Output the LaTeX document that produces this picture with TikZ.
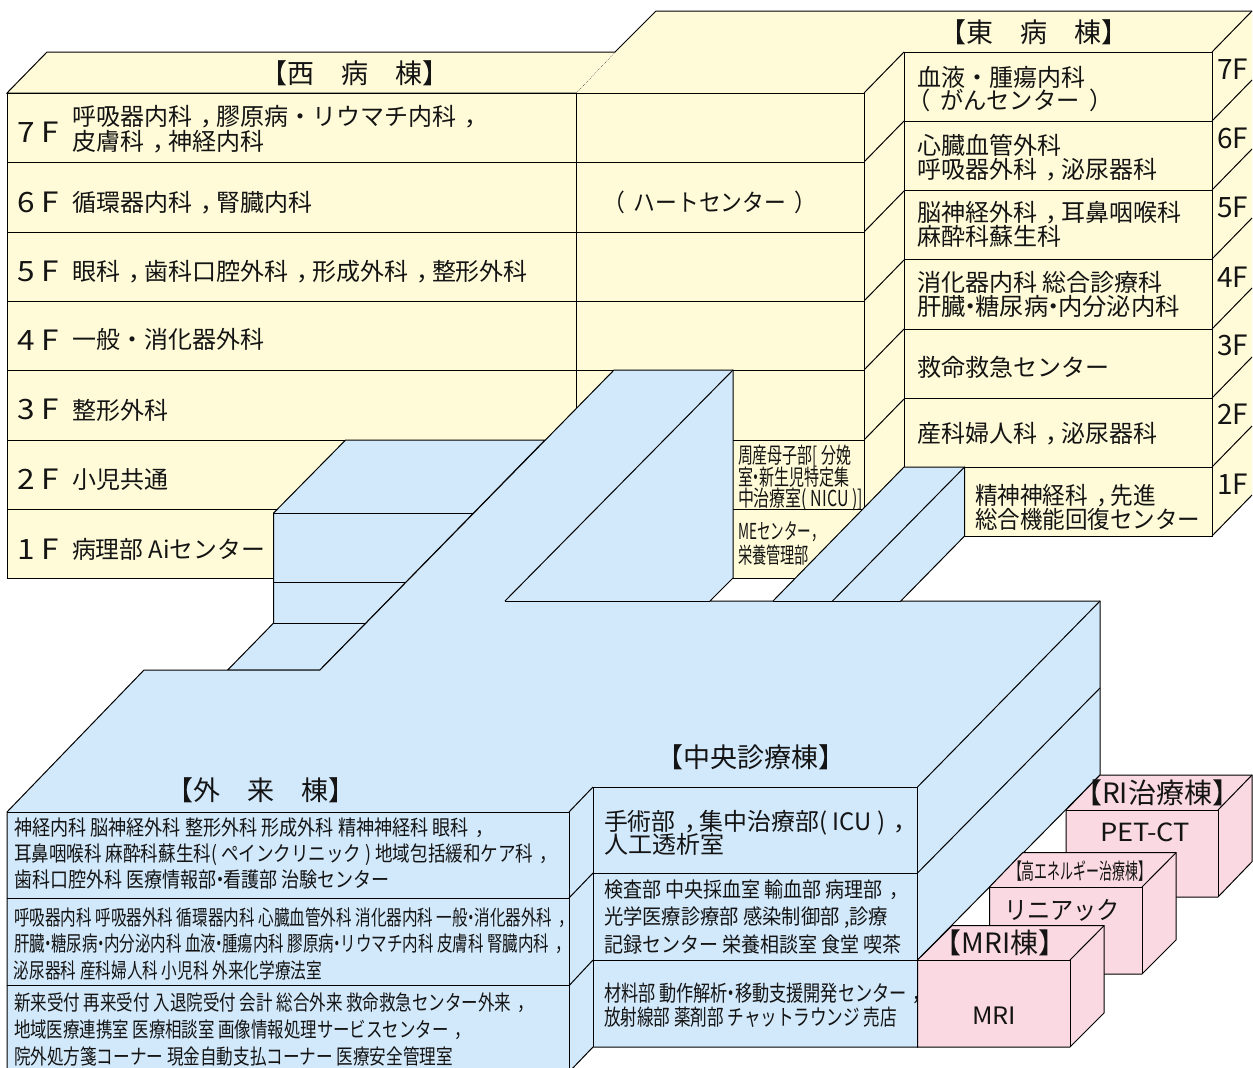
\documentclass[tikz,border=0pt]{standalone}
\usepackage{graphicx}
\usepackage{fontspec}
\newfontfamily\jp{Noto Sans CJK JP}
\definecolor{ylw}{HTML}{FFFBD8}
\definecolor{blu}{HTML}{D2E9FB}
\definecolor{pnk}{HTML}{FBD9E3}
\tikzset{
  edge/.style={draw=black,line width=1pt,line join=miter},
  ybox/.style={edge,fill=ylw},
  bbox/.style={edge,fill=blu},
  pbox/.style={edge,fill=pnk},
  tx/.style={inner sep=0pt,outer sep=0pt,text=black!92}
}
% comma / dot / brackets placed as the picture shows them
\newcommand\cm{\hspace{.36em}，\hspace{-.36em}}
\newcommand\nd{\hspace{-.3em}・\hspace{-.3em}}
\newcommand\opn{\hspace{-.4em}（\hspace{.4em}}
\newcommand\cls{\hspace{.4em}）\hspace{-.4em}}
% name, x, y(centre of line), size, text : left aligned, natural width
\newcommand\tn[5]{\node[tx,anchor=base west,yshift={-0.38*#4pt},font=\jp\fontsize{#4}{#4}\selectfont] (#1) at (#2,#3) {#5};}
% name, x, y, size, width, text : left aligned, squeezed to width
\newcommand\tw[6]{\node[tx,anchor=base west,yshift={-0.38*#4pt},font=\jp\fontsize{#4}{#4}\selectfont] (#1) at (#2,#3) {\resizebox{#5pt}{\height}{#6}};}
% name, x, y, size, text : centred
\newcommand\tc[5]{\node[tx,anchor=base,yshift={-0.38*#4pt},font=\jp\fontsize{#4}{#4}\selectfont] (#1) at (#2,#3) {#5};}
\begin{document}
\begin{tikzpicture}[x=1pt,y=-1pt]
\path[use as bounding box] (0,0) rectangle (1253,1068);
\clip (0,0) rectangle (1253,1068);

% --- east wing and middle block ---
\fill[ylw] (576,93) -- (656,11) -- (1252,11) -- (1252,495) -- (1212,536) -- (964.6,536) -- (964.6,467) -- (904,467) -- (864,509) -- (864,93) -- cycle;
\draw[edge] (615,52) -- (656,11) -- (1252,11);
\draw[edge,densely dotted,line width=.7pt] (576,93) -- (615,52);
\draw[edge] (904,52) rectangle (1212,467);
\draw[edge] (964.6,467) -- (964.6,536) -- (1212,536) -- (1212,52);
\foreach \yy in {121,190,259,329,398} \draw[edge] (904,\yy) -- (1212,\yy);
\foreach \yy in {52,121,190,259,329,398,467,536} \draw[edge] (1212,\yy) -- (1252,\yy-41);
\foreach \yy in {93,162,232,301,370,440,509} \draw[edge] (864,\yy) -- (904,\yy-41);

% --- west wing ---
\fill[ylw] (7,93) -- (47,52) -- (615,52) -- (576,93) -- (864,93) -- (864,509) -- (796,578) -- (7,578) -- cycle;
\draw[edge] (576,93) -- (7,93) -- (47,52) -- (615,52);
\draw[edge] (7,93) -- (7,578) -- (796,578);
\draw[edge] (864,93) -- (864,509);
\foreach \yy in {93,162,232,301,370,440,509} \draw[edge] (7,\yy) -- (864,\yy);
\draw[edge] (576,93) -- (576,410);

% --- blue stub behind the outpatient wing ---
\fill[white] (273.6,578.6) rectangle (800,601);
\draw[edge] (7,578) -- (273.6,578);
\draw[edge] (733,578) -- (796,578);
\draw[bbox] (345.6,440) -- (545,440) -- (320,670) -- (227.7,670) -- (273.6,623) -- (273.6,513) -- cycle;
\draw[edge] (273.6,513) -- (474.6,513);
\draw[edge] (273.6,582) -- (405.7,582);
\draw[edge] (273.6,623) -- (365.5,623);

% --- main blue mass ---
\draw[bbox] (7,1090) -- (7,812) -- (144,670) -- (320,670) -- (614,370) -- (733,370) -- (733,578) -- (710,601) -- (773,601) -- (904,467) -- (964.6,467) -- (964.6,536) -- (900.8,601) -- (1100,601) -- (1100,775) -- (917.5,960) -- (917.5,1047) -- (593,1047) -- (569,1072) -- (569,1090) -- cycle;
\draw[edge] (505,601) -- (733,370);
\draw[edge] (505,601) -- (710,601);
\draw[edge] (773,601) -- (900.8,601);
\draw[edge] (964.6,467) -- (832.5,601);
\draw[edge] (7,812) -- (569,812) -- (569,1090);
\draw[edge] (7,898) -- (569,898);
\draw[edge] (7,985.7) -- (569,985.7);
\draw[edge] (569,812) -- (593,787);
\draw[edge] (569,898) -- (593,873);
\draw[edge] (569,985.7) -- (593,960);
\draw[edge] (593,787) -- (917.5,787) -- (917.5,1047);
\draw[edge] (593,787) -- (593,1047);
\draw[edge] (593,873) -- (917.5,873);
\draw[edge] (593,960) -- (917.5,960);
\draw[edge] (917.5,787) -- (1100,601);
\draw[edge] (917.5,873) -- (1100,688);

% --- pink annexes ---
\draw[pbox] (1066,810) -- (1100,775) -- (1252,775) -- (1252,861.7) -- (1218,897) -- (1066,897) -- cycle;
\draw[edge] (1066,810) -- (1218,810) -- (1218,897);
\draw[edge] (1218,810) -- (1252,775);
\draw[pbox] (989.5,887) -- (1022.6,852.7) -- (1176,852.7) -- (1176,940) -- (1142,974) -- (989.5,974) -- cycle;
\draw[edge] (989.5,887) -- (1142,887) -- (1142,974);
\draw[edge] (1142,887) -- (1176,852.7);
\draw[pbox] (917.5,960) -- (952,925.7) -- (1104,925.7) -- (1104,1013) -- (1070,1047) -- (917.5,1047) -- cycle;
\draw[edge] (917.5,960) -- (1070,960) -- (1070,1047);
\draw[edge] (1070,960) -- (1104,925.7);

% --- titles ---
\tc{tw}{355}{73}{27}{【西　病　棟】}
\tc{te}{1034}{32}{27}{【東　病　棟】}
\tc{to}{261}{790}{27}{【外　来　棟】}
\tc{tc}{751}{757}{27}{【中央診療棟】}
\tc{tri}{1157}{793}{28}{【RI治療棟】}
\node[tx,anchor=base,yshift=-8.4pt,font=\jp\fontsize{22}{22}\selectfont] (thi) at (1080,871) {\resizebox{142pt}{\height}{【高エネルギー治療棟】}};
\tc{tmr}{1000}{943}{28}{【MRI棟】}

% --- west wing text ---
\tw{fw7}{17}{132}{28}{42}{7 F}
\tw{fw6}{17}{202}{28}{42}{6 F}
\tw{fw5}{17}{271}{28}{42}{5 F}
\tw{fw4}{17}{340}{28}{42}{4 F}
\tw{fw3}{17}{409}{28}{42}{3 F}
\tw{fw2}{17}{479}{28}{42}{2 F}
\tw{fw1}{17}{549}{28}{42}{1 F}
\tn{w7a}{72}{116}{24}{呼吸器内科\cm 膠原病・リウマチ内科\cm}
\tn{w7b}{72}{141}{24}{皮膚科\cm 神経内科}
\tn{w6}{72}{202}{24}{循環器内科\cm 腎臓内科}
\tn{w5}{72}{271}{24}{眼科\cm 歯科口腔外科\cm 形成外科\cm 整形外科}
\tn{w4}{72}{339}{24}{一般・消化器外科}
\tn{w3}{72}{410}{24}{整形外科}
\tn{w2}{72}{479}{24}{小児共通}
\tw{w1}{72}{549}{24}{193}{病理部 Aiセンター}
\tw{hc}{612}{202}{24}{196}{\opn ハートセンター\cls}

% --- maternity, ME ---
\tw{m1}{738}{455}{22}{113}{周産母子部[ 分娩}
\tw{m2}{738}{477}{22}{111}{室\nd 新生児特定集}
\tw{m3}{738}{498}{22}{125}{中治療室( NICU )]}
\tw{me1}{738}{531}{22}{87}{MEセンター，}
\tw{me2}{738}{555}{22}{71}{栄養管理部}

% --- east wing text ---
\tn{e7a}{917}{77}{24}{血液・腫瘍内科}
\tw{e7b}{917}{100}{24}{186}{\opn がんセンター\cls}
\tn{e6a}{917}{145}{24}{心臓血管外科}
\tn{e6b}{917}{169}{24}{呼吸器外科\cm 泌尿器科}
\tn{e5a}{917}{212}{24}{脳神経外科\cm 耳鼻咽喉科}
\tn{e5b}{917}{236}{24}{麻酔科蘇生科}
\tw{e4a}{917}{282}{24}{246}{消化器内科 総合診療科}
\tw{e4b}{917}{306}{24}{263}{肝臓\nd 糖尿病\nd 内分泌内科}
\tn{e3}{917}{367}{24}{救命救急センター}
\tn{e2}{917}{433}{24}{産科婦人科\cm 泌尿器科}
\tw{e1a}{975}{495}{24}{181}{精神神経科\cm 先進}
\tw{e1b}{975}{519}{24}{225}{総合機能回復センター}
\tw{fe7}{1217}{69}{28}{31}{7F}
\tw{fe6}{1217}{138}{28}{31}{6F}
\tw{fe5}{1217}{207}{28}{31}{5F}
\tw{fe4}{1217}{277}{28}{31}{4F}
\tw{fe3}{1217}{345}{28}{31}{3F}
\tw{fe2}{1217}{414}{28}{31}{2F}
\tw{fe1}{1217}{484}{28}{31}{1F}

% --- outpatient wing text ---
\tw{oa1}{14}{828}{21}{473}{神経内科 脳神経外科 整形外科 形成外科 精神神経科 眼科\cm}
\tw{oa2}{14}{854}{21}{537}{耳鼻咽喉科 麻酔科蘇生科( ペインクリニック ) 地域包括緩和ケア科\cm}
\tw{oa3}{14}{880}{21}{376}{歯科口腔外科 医療情報部\nd 看護部 治験センター}
\tw{ob1}{14}{918}{21}{554}{呼吸器内科 呼吸器外科 循環器内科 心臓血管外科 消化器内科 一般\nd 消化器外科\cm}
\tw{ob2}{14}{944}{21}{551}{肝臓\nd 糖尿病\nd 内分泌内科 血液\nd 腫瘍内科 膠原病\nd リウマチ内科 皮膚科 腎臓内科\cm}
\tw{ob3}{14}{971}{21}{308}{泌尿器科 産科婦人科 小児科 外来化学療法室}
\tw{oc1}{14}{1003}{21}{514}{新来受付 再来受付 入退院受付 会計 総合外来 救命救急センター外来\cm}
\tw{oc2}{14}{1030}{21}{451}{地域医療連携室 医療相談室 画像情報処理サービスセンター\cm}
\tw{oc3}{14}{1057}{21}{439}{院外処方箋コーナー 現金自動支払コーナー 医療安全管理室}

% --- central wing text ---
\tw{c1a}{604}{821}{24}{305}{手術部\cm 集中治療部( ICU )\cm}
\tn{c1b}{604}{844}{24}{人工透析室}
\tw{c2a}{604}{890}{21}{298}{検査部 中央採血室 輸血部 病理部\cm}
\tw{c2b}{604}{917}{21}{284}{光学医療診療部 感染制御部 ,診療}
\tw{c2c}{604}{945}{21}{298}{記録センター 栄養相談室 食堂 喫茶}
\tw{c3a}{604}{993}{22}{320}{材料部 動作解析\nd 移動支援開発センター\cm}
\tw{c3b}{604}{1017}{22}{293}{放射線部 薬剤部 チャットラウンジ 売店}

% --- annex text ---
\node[tx,anchor=base,yshift=-9.5pt,font=\jp\fontsize{25}{25}\selectfont] (pet) at (1145,832) {\resizebox{90pt}{\height}{PET-CT}};
\node[tx,anchor=base,yshift=-9.5pt,font=\jp\fontsize{25}{25}\selectfont] (lin) at (1062,910) {\resizebox{116pt}{\height}{リニアック}};
\node[tx,anchor=base,yshift=-9.1pt,font=\jp\fontsize{24}{24}\selectfont] (mri) at (994,1015) {\resizebox{44pt}{\height}{MRI}};
\end{tikzpicture}
\end{document}
